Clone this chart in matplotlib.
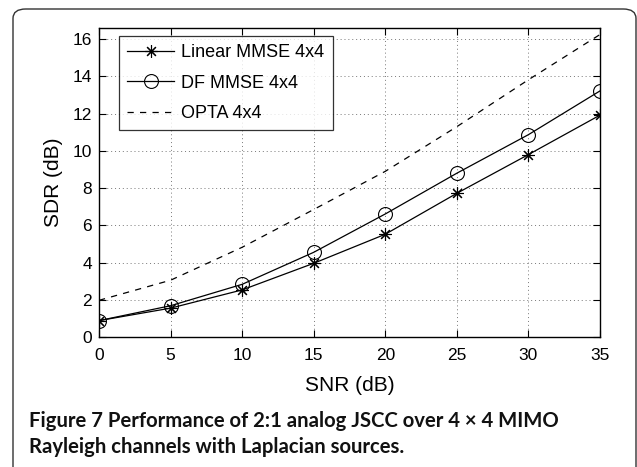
import matplotlib.pyplot as plt
from matplotlib.patches import FancyBboxPatch

# datos
snr = [0, 5, 10, 15, 20, 25, 30, 35]
linear_mmse = [0.88, 1.55, 2.53, 3.96, 5.52, 7.72, 9.8, 11.92]
df_mmse = [0.88, 1.68, 2.83, 4.55, 6.61, 8.8, 10.87, 13.22]
opta = [1.97, 3.05, 4.82, 6.85, 8.9, 11.3, 13.82, 16.25]

xticks = [0, 5, 10, 15, 20, 25, 30, 35]
yticks = [0, 2, 4, 6, 8, 10, 12, 14, 16]

plt.rcParams['font.family'] = ['Liberation Sans', 'DejaVu Sans']

fig = plt.figure(figsize=(6.37, 4.67), dpi=100)
W, H = 637, 467

# marco redondeado exterior (abierto por abajo)
marco = FancyBboxPatch((13 / W, -0.1), (636 - 13) / W, (467 - 9) / H + 0.1,
                       boxstyle="round,pad=0,rounding_size=0.02",
                       transform=fig.transFigure, fill=False,
                       edgecolor="#333333", linewidth=1.0, clip_on=False)
fig.patches.append(marco)

ax = fig.add_axes([99 / W, 1 - 337 / H, (600 - 99) / W, (337 - 28) / H])

ax.plot(snr, linear_mmse, color="black", linewidth=0.9, marker=(8, 2, 0),
        markersize=9, markeredgewidth=0.8, label="Linear MMSE 4x4")
ax.plot(snr, df_mmse, color="black", linewidth=0.9, marker="o",
        markersize=10, markerfacecolor="none", markeredgewidth=0.8,
        label="DF MMSE 4x4")
ax.plot(snr, opta, color="black", linewidth=0.9, linestyle=(0, (5, 5)),
        label="OPTA 4x4")

ax.set_xlim(0, 35)
ax.set_ylim(0, 16.6)
ax.set_xticks(xticks)
ax.set_yticks(yticks)
ax.tick_params(direction="in", top=True, right=True, labelsize=12.5,
               length=5, width=0.8)
ax.tick_params(axis="x", pad=8)
ax.tick_params(axis="y", pad=5)
ax.grid(True, linestyle=(0, (1, 3)), color="#777777", linewidth=0.7)
for s in ax.spines.values():
    s.set_linewidth(1.0)

ax.set_xlabel("SNR (dB)", fontsize=15, labelpad=9)
ax.set_ylabel("SDR (dB)", fontsize=15, labelpad=7)

ley = ax.legend(loc="upper left", bbox_to_anchor=(0.04, 0.974), fontsize=13,
                frameon=True, fancybox=False, edgecolor="black",
                borderaxespad=0, handlelength=2.6, borderpad=0.45,
                labelspacing=0.75, handletextpad=0.4)
ley.get_frame().set_linewidth(0.9)

# pie de figura
fig.text(29 / W, 1 - 427 / H, "Figure 7 Performance of 2:1 analog JSCC over 4 \u00d7 4 MIMO",
         fontsize=14.6, fontweight="bold", family=["Lato", "DejaVu Sans"],
         color="#111111", va="baseline")
fig.text(29 / W, 1 - 453 / H, "Rayleigh channels with Laplacian sources.",
         fontsize=14.6, fontweight="bold", family=["Lato", "DejaVu Sans"],
         color="#111111", va="baseline")

fig.savefig("out.png", dpi=100)
